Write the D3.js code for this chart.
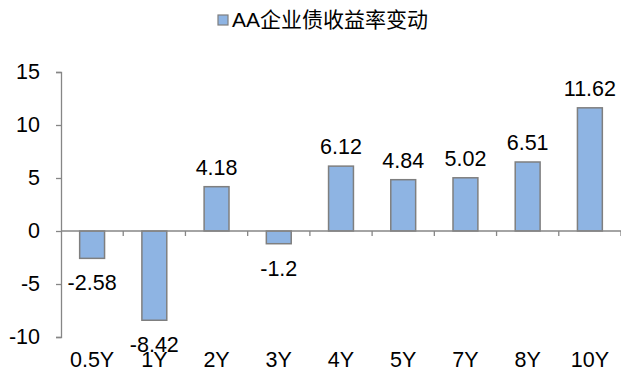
<!DOCTYPE html>
<html>
<head>
<meta charset="utf-8">
<script src="https://cdn.jsdelivr.net/npm/d3@7/dist/d3.min.js"></script>
<style>
  body { margin: 0; background: #fff; }
  svg text { font-family: "Liberation Sans", Arial, sans-serif; fill: #000; }
</style>
</head>
<body>
<svg id="chart" width="621" height="371"></svg>
<script>
// Tenors and yield changes (bp)
const tenors = ["0.5Y", "1Y", "2Y", "3Y", "4Y", "5Y", "7Y", "8Y", "10Y"];
const changes = [-2.58, -8.42, 4.18, -1.2, 6.12, 4.84, 5.02, 6.51, 11.62];
const yTicks = [-10, -5, 0, 5, 10, 15];
const seriesName = "AA企业债收益率变动";

const svg = d3.select("#chart");
const margin = { left: 61, right: 0, top: 72, bottom: 34 };
const width = 621, height = 371;
const fontSize = 21.5;

const x = d3.scaleBand()
  .domain(tenors)
  .range([margin.left, width - margin.right])
  .paddingInner(0.6)
  .paddingOuter(0.3);

const y = d3.scaleLinear()
  .domain([-10, 15])
  .range([height - margin.bottom, margin.top]);

const axisColor = "#868686";

// Y axis
const yAxis = svg.append("g")
  .attr("transform", `translate(${margin.left},0)`)
  .call(d3.axisLeft(y).tickValues(yTicks).tickSize(5).tickPadding(16).tickFormat((d) => String(d)));
yAxis.select(".domain").attr("stroke", axisColor).attr("stroke-width", 1.3);
yAxis.selectAll(".tick line").attr("stroke", axisColor).attr("stroke-width", 1.3);
yAxis.selectAll(".tick text").attr("font-size", fontSize).attr("fill", "#000");

// Bars
svg.append("g").selectAll("rect")
  .data(tenors)
  .join("rect")
  .attr("x", (d) => x(d))
  .attr("width", x.bandwidth())
  .attr("y", (d, i) => y(Math.max(0, changes[i])))
  .attr("height", (d, i) => Math.abs(y(changes[i]) - y(0)))
  .attr("fill", "#8EB4E3")
  .attr("stroke", "#7F7F7F")
  .attr("stroke-width", 1.5);

// Zero baseline with category separators
const zeroY = y(0);
const plotW = width - margin.right - margin.left;
svg.append("line")
  .attr("x1", margin.left).attr("x2", width - margin.right)
  .attr("y1", zeroY).attr("y2", zeroY)
  .attr("stroke", axisColor).attr("stroke-width", 1.3);
const bounds = d3.range(1, tenors.length + 1).map((i) => margin.left + i * plotW / tenors.length);
svg.append("g").selectAll("line")
  .data(bounds)
  .join("line")
  .attr("x1", (d) => d).attr("x2", (d) => d)
  .attr("y1", zeroY).attr("y2", zeroY + 5)
  .attr("stroke", axisColor).attr("stroke-width", 1.3);

// Category labels along the bottom
svg.append("g").selectAll("text")
  .data(tenors)
  .join("text")
  .attr("x", (d) => x(d) + x.bandwidth() / 2)
  .attr("y", height - 4)
  .attr("text-anchor", "middle")
  .attr("font-size", fontSize)
  .text((d) => d);

// Value labels
svg.append("g").selectAll("text")
  .data(tenors)
  .join("text")
  .attr("x", (d) => x(d) + x.bandwidth() / 2)
  .attr("y", (d, i) => changes[i] >= 0 ? y(changes[i]) - 12 : y(changes[i]) + 32)
  .attr("text-anchor", "middle")
  .attr("font-size", fontSize)
  .text((d, i) => changes[i]);

// Legend
const legend = svg.append("g").attr("transform", "translate(218,15)");
legend.append("rect")
  .attr("width", 10).attr("height", 10)
  .attr("fill", "#8EB4E3").attr("stroke", "#7F7F7F").attr("stroke-width", 1.2);
legend.append("text")
  .attr("x", 14).attr("y", 12)
  .attr("font-size", 21)
  .style("font-family", "'Liberation Sans', 'Noto Sans CJK SC', sans-serif")
  .text(seriesName);
</script>
</body>
</html>
